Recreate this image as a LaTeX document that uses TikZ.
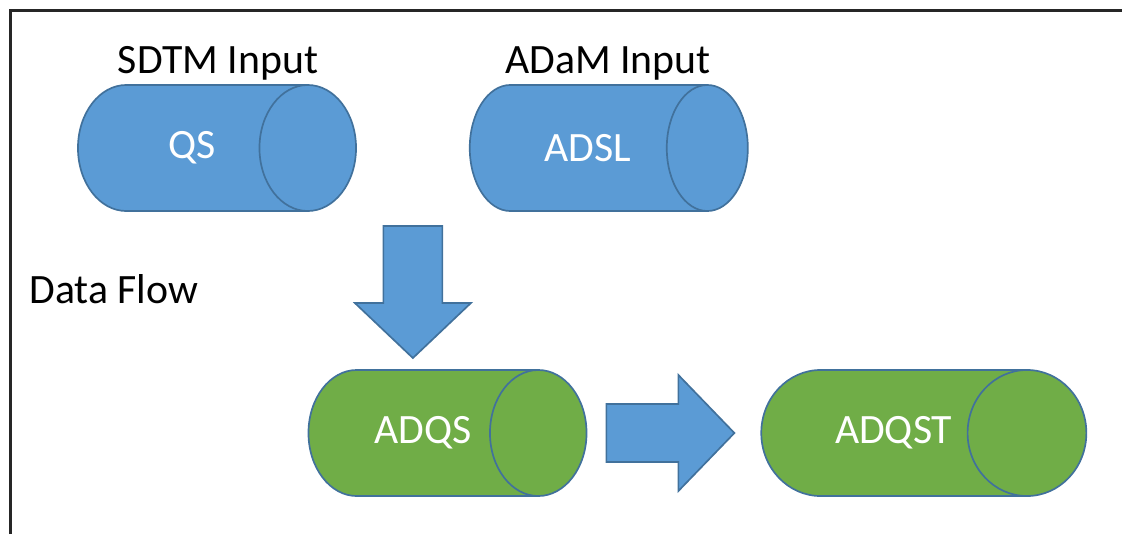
\documentclass[tikz,border=0pt]{standalone}
\usepackage{fontspec}
\setmainfont{Carlito}
\usetikzlibrary{shapes.geometric, positioning, calc}

\definecolor{canblue}{RGB}{91,155,213}
\definecolor{cangreen}{RGB}{112,173,71}
\definecolor{canline}{RGB}{65,113,156}

\begin{document}
\begin{tikzpicture}[x=0.025cm, y=-0.025cm,
  can/.style={cylinder, draw=canline, line width=1.2pt, cylinder uses custom fill,
    shape aspect=2.96, minimum height=6.95cm, minimum width=3.15cm, inner sep=0pt,
    anchor=shape center, text=white, font=\fontsize{29.7}{35}\selectfont},
  in can/.style={can, cylinder body fill=canblue, cylinder end fill=canblue},
  out can/.style={can, cylinder body fill=cangreen, cylinder end fill=cangreen},
  heading/.style={font=\fontsize{29.7}{35}\selectfont, anchor=base},
  block arrow/.style={fill=canblue, draw=canline, line width=1.2pt, line join=miter}]
  \useasboundingbox (0,0) rectangle (1122,534);
  % frame
  \draw[line width=1.5pt, black!85] (10.5,534) -- (10.5,10.5) -- (1122,10.5);

  % inputs
  \node[in can] (qs) at (217,148) {QS};
  \node[in can, right=2.8cm of qs] (adsl) {ADSL};
  \node[heading] (sdtm) at (218,73) {SDTM Input};
  \node[heading] (adam) at (608,73) {ADaM Input};
  \node[heading, anchor=base west] (flow) at (24.5,303) {Data Flow};

  % outputs
  \node[out can] (adqs) at (447.5,433) {ADQS};
  \node[out can, shape aspect=3.64, minimum height=8.125cm,
    right=4.325cm of adqs] (adqst) {ADQST};

  % arrows
  \coordinate (merge) at ([yshift=-1.95cm]$(qs.shape center)!.5!(adsl.shape center)$);
  \draw[block arrow, shift={(merge)}] (-29.5,0) -- (29.5,0) -- (29.5,77) -- (58,77)
    -- (0,132) -- (-58,77) -- (-29.5,77) -- cycle;
  \coordinate[right=0.475cm of adqs] (hop);
  \draw[block arrow, shift={(hop)}] (0,-29) -- (72,-29) -- (72,-58) -- (128,0)
    -- (72,58) -- (72,29) -- (0,29) -- cycle;
\end{tikzpicture}
\end{document}
